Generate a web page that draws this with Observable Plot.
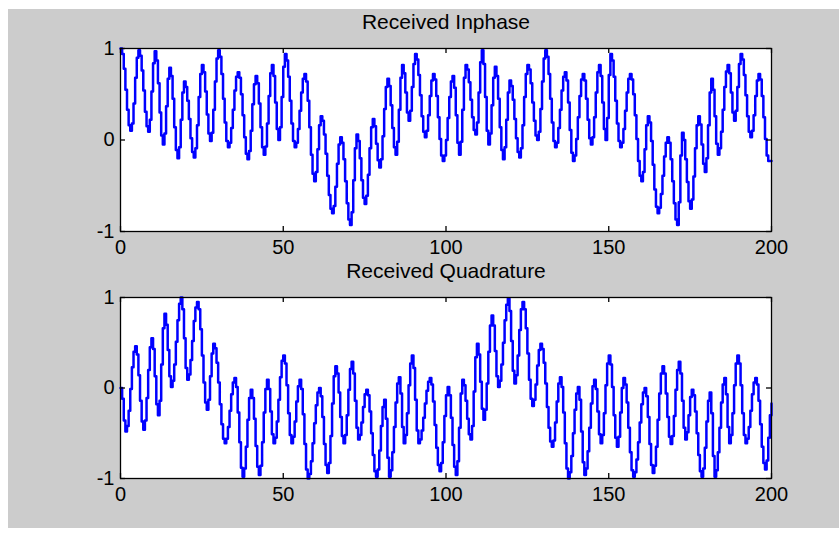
<!DOCTYPE html>
<html><head><meta charset="utf-8">
<script src="https://cdn.jsdelivr.net/npm/d3@7"></script>
<script src="https://cdn.jsdelivr.net/npm/@observablehq/plot@0.6"></script>
<style>
html,body{margin:0;padding:0;background:#fff;}
#fig{position:relative;width:839px;height:534px;background:#fff;overflow:hidden;}
#panel{position:absolute;left:8px;top:9px;width:831px;height:519px;background:#cccccc;}
.ax{position:absolute;left:0;}
</style></head><body><div id="fig"><div id="panel"></div></div>
<script>
// sampled values, one every 0.5 on the x axis (0..200)
const inphase = [
1.00,.94,.78,.55,.33,.16,.10,.18,.40,.68,
.90,.98,.92,.76,.54,.31,.15,.09,.22,.53,
.84,.97,.87,.62,.30,.05,-.05,.07,.37,.67,
.79,.70,.45,.14,-.11,-.20,-.08,.22,.52,.64,
.58,.43,.23,.02,-.13,-.19,-.09,.16,.47,.72,
.82,.74,.53,.28,.07,-.01,.08,.33,.64,.89,
.98,.91,.72,.45,.19,-.01,-.08,-.03,.13,.33,
.54,.69,.74,.68,.50,.27,.03,-.15,-.21,-.12,
.10,.39,.61,.70,.62,.40,.14,-.08,-.16,-.07,
.18,.48,.73,.82,.70,.41,.12,.00,.14,.47,
.80,.94,.87,.69,.43,.18,-.01,-.08,-.03,.12,
.32,.52,.67,.72,.64,.43,.14,-.16,-.37,-.45,
-.35,-.10,.16,.26,.21,.06,-.15,-.39,-.60,-.75,
-.80,-.72,-.51,-.26,-.05,.03,-.03,-.21,-.45,-.69,
-.87,-.93,-.79,-.44,-.09,.06,-.01,-.20,-.44,-.63,
-.70,-.61,-.38,-.09,.14,.23,.15,-.04,-.22,-.30,
-.21,.04,.34,.58,.67,.59,.38,.13,-.08,-.16,
-.02,.33,.68,.82,.73,.52,.30,.21,.32,.58,
.83,.94,.88,.71,.49,.26,.09,.03,.10,.27,
.48,.65,.72,.66,.48,.25,.01,-.17,-.23,-.17,
.00,.24,.47,.64,.70,.57,.27,-.03,-.16,-.02,
.33,.68,.82,.77,.63,.44,.25,.11,.06,.19,
.52,.85,.98,.83,.47,.10,-.05,.07,.38,.68,
.80,.70,.45,.14,-.11,-.21,-.08,.22,.52,.65,
.59,.44,.23,.02,-.13,-.19,-.09,.16,.47,.72,
.82,.77,.62,.41,.21,.05,.00,.09,.34,.64,
.89,.98,.91,.72,.45,.19,-.01,-.08,-.03,.13,
.33,.54,.69,.74,.65,.41,.11,-.14,-.23,-.17,
.01,.25,.48,.66,.72,.65,.45,.22,.02,-.05,
.03,.25,.52,.74,.82,.70,.41,.12,.00,.24,
.71,.94,.87,.69,.43,.18,-.01,-.08,-.03,.12,
.32,.52,.67,.72,.66,.50,.27,.01,-.23,-.39,
-.45,-.35,-.10,.16,.26,.19,-.01,-.27,-.54,-.73,
-.80,-.74,-.59,-.39,-.18,-.03,.03,-.03,-.21,-.45,
-.69,-.87,-.93,-.68,-.17,.08,.00,-.21,-.46,-.67,
-.75,-.65,-.40,-.09,.16,.26,.17,-.05,-.26,-.35,
-.20,.16,.52,.67,.55,.26,-.04,-.16,-.09,.09,
.33,.58,.75,.82,.73,.52,.30,.21,.32,.58,
.83,.94,.88,.71,.49,.26,.09,.03,.10,.27,
.48,.65,.72,.66,.48,.25,.01,-.17,-.23,-.23,
-.23];
const quadrature = [
.00,-.12,-.36,-.48,-.42,-.25,-.01,.23,.40,.46,
.37,.14,-.14,-.37,-.46,-.36,-.11,.20,.45,.55,
.43,.13,-.18,-.30,-.14,.26,.66,.82,.70,.42,
.13,.01,.08,.26,.51,.75,.93,1.00,.87,.55,
.22,.09,.15,.31,.52,.74,.89,.95,.87,.65,
.36,.06,-.16,-.24,-.13,.13,.38,.49,.44,.28,
.06,-.18,-.40,-.56,-.61,-.56,-.43,-.25,-.07,.06,
.11,.01,-.27,-.60,-.88,-.98,-.89,-.65,-.35,-.11,
-.02,-.11,-.34,-.64,-.87,-.96,-.86,-.60,-.27,-.01,
.09,-.01,-.26,-.51,-.61,-.55,-.37,-.13,.12,.30,
.36,.27,.03,-.28,-.52,-.61,-.54,-.37,-.15,.02,
.09,-.01,-.29,-.62,-.90,-1.00,-.95,-.81,-.61,-.39,
-.19,-.05,.00,-.09,-.32,-.62,-.85,-.94,-.83,-.53,
-.17,.13,.24,.16,-.05,-.32,-.53,-.61,-.52,-.30,
-.02,.21,.29,.16,-.14,-.44,-.57,-.52,-.38,-.21,
-.07,-.02,-.08,-.26,-.50,-.74,-.92,-.98,-.90,-.69,
-.42,-.21,-.13,-.34,-.77,-.98,-.91,-.71,-.43,-.16,
.05,.12,-.06,-.43,-.61,-.52,-.28,.03,.27,.36,
.22,-.13,-.47,-.61,-.57,-.47,-.33,-.17,-.03,.07,
.11,.04,-.15,-.41,-.66,-.85,-.92,-.83,-.60,-.31,
-.08,.01,-.08,-.33,-.63,-.87,-.96,-.81,-.44,-.06,
.09,.03,-.14,-.34,-.51,-.57,-.42,-.04,.34,.49,
.37,.07,-.23,-.35,-.24,.05,.40,.69,.80,.69,
.41,.13,.01,.08,.26,.50,.75,.92,.99,.85,
.52,.19,.05,.14,.36,.64,.87,.95,.87,.66,
.38,.09,-.12,-.20,-.13,.04,.25,.42,.49,.43,
.28,.05,-.21,-.44,-.59,-.65,-.58,-.38,-.15,.05,
.12,.01,-.27,-.61,-.89,-1.00,-.93,-.75,-.50,-.24,
-.06,.01,-.13,-.48,-.82,-.96,-.89,-.70,-.44,-.17,
.02,.09,-.01,-.26,-.51,-.61,-.52,-.28,.03,.27,
.36,.26,.01,-.30,-.55,-.65,-.54,-.27,.00,.11,
.04,-.16,-.44,-.71,-.91,-.98,-.93,-.79,-.60,-.38,
-.18,-.05,.00,-.09,-.32,-.62,-.85,-.94,-.86,-.65,
-.35,-.06,.16,.24,.16,-.06,-.32,-.54,-.62,-.53,
-.31,-.02,.20,.29,.16,-.14,-.44,-.57,-.49,-.30,
-.10,-.02,-.08,-.26,-.50,-.74,-.92,-.98,-.89,-.66,
-.37,-.14,-.05,-.28,-.75,-.98,-.91,-.71,-.44,-.16,
.04,.11,-.07,-.43,-.61,-.52,-.28,.03,.27,.36,
.27,.03,-.28,-.52,-.61,-.56,-.43,-.25,-.07,.06,
.11,.04,-.14,-.40,-.65,-.83,-.90,-.80,-.55,-.30,
-.17];
const sampleStep = 0.5;
const xTicks = [0, 50, 100, 150, 200];
const yTicks = [-1, 0, 1];
const titles = ["Received Inphase", "Received Quadrature"];

const W = 839, ML = 120, MR = 68;
const FONT = "'Liberation Sans', Arial, sans-serif";
const FS = 20;

function panel(values, title, top, height, mt, mb) {
  const data = values.map((v, i) => ({t: i * sampleStep, v}));
  const fh = height - mt - mb;
  const fw = W - ML - MR;
  const svg = Plot.plot({
    width: W, height,
    marginLeft: ML, marginRight: MR, marginTop: mt, marginBottom: mb,
    style: {background: "transparent", fontFamily: FONT, fontSize: FS + "px", color: "black", overflow: "visible"},
    x: {domain: [0, 200]},
    y: {domain: [-1, 1]},
    marks: [
      Plot.frame({fill: "white", stroke: null}),
      Plot.line(data, {x: "t", y: "v", curve: "step-after", stroke: "#0000ff", strokeWidth: 2.5}),
      Plot.frame({stroke: "black", strokeWidth: 1.3}),
      Plot.tickX(xTicks, {x: d => d, insetTop: fh - 5, stroke: "black", strokeWidth: 1.3}),
      Plot.tickX(xTicks, {x: d => d, insetBottom: fh - 5, stroke: "black", strokeWidth: 1.3}),
      Plot.tickY(yTicks, {y: d => d, insetRight: fw - 5, stroke: "black", strokeWidth: 1.3}),
      Plot.tickY(yTicks, {y: d => d, insetLeft: fw - 5, stroke: "black", strokeWidth: 1.3}),
      Plot.axisX({ticks: xTicks, tickSize: 0, tickPadding: 8, tickFormat: d => String(d), fontSize: FS, label: null}),
      Plot.axisY({ticks: yTicks, tickSize: 0, tickPadding: 6, tickFormat: d => String(d), fontSize: FS, label: null}),
      Plot.text([title], {frameAnchor: "top", lineAnchor: "middle", dy: -26, text: d => d, fontSize: 21, fill: "black"})
    ]
  });
  svg.classList.add("ax");
  svg.style.top = top + "px";
  svg.style.position = "absolute";
  svg.style.left = "0px";
  document.getElementById("fig").appendChild(svg);
}

panel(inphase, titles[0], 0, 265, 48, 34);
panel(quadrature, titles[1], 265, 269, 32, 56);
</script>
</body></html>
